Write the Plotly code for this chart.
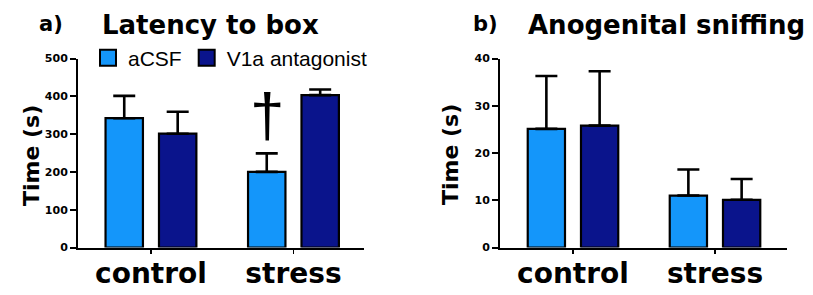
import plotly.graph_objects as go

# ---- data ----
categories = ["control", "stress"]
series_names = ["aCSF", "V1a antagonist"]
colors = ["#1496fa", "#0a148c"]

latency_acsf = [342, 200]
latency_acsf_err = [59, 49]
latency_v1a = [301, 403]
latency_v1a_err = [58, 15]

sniff_acsf = [25.1, 11.0]
sniff_acsf_err = [11.2, 5.5]
sniff_v1a = [25.8, 10.1]
sniff_v1a_err = [11.5, 4.4]

W, H = 813, 295
BOLD = "DejaVu Sans"
xpos = list(range(len(categories)))

fig = go.Figure()

def add_bars(vals, errs, name, color, xa, ya):
    fig.add_trace(go.Bar(
        x=xpos, y=vals, name=name, showlegend=False,
        marker=dict(color=color, line=dict(color="black", width=2.2)),
        error_y=dict(type="data", array=errs, arrayminus=[0] * len(errs),
                     symmetric=False, color="black", thickness=2.6, width=11),
        xaxis=xa, yaxis=ya, offsetgroup=name, hoverinfo="skip",
    ))

add_bars(latency_acsf, latency_acsf_err, series_names[0], colors[0], "x", "y")
add_bars(latency_v1a, latency_v1a_err, series_names[1], colors[1], "x", "y")
add_bars(sniff_acsf, sniff_acsf_err, series_names[0], colors[0], "x2", "y2")
add_bars(sniff_v1a, sniff_v1a_err, series_names[1], colors[1], "x2", "y2")

# legend entries
for name, color in zip(series_names, colors):
    fig.add_trace(go.Scatter(
        x=[None], y=[None], mode="markers", name=name,
        marker=dict(symbol="square", size=16, color=color,
                    line=dict(color="black", width=2)),
        xaxis="x", yaxis="y",
    ))

ydom = [47.5 / H, 236.5 / H]

xcommon = dict(
    tickmode="array", tickvals=xpos, ticktext=categories,
    showline=True, linecolor="black", linewidth=2,
    ticks="outside", ticklen=4, tickwidth=1.5, tickcolor="black",
    tickfont=dict(family=BOLD, size=28, color="black", weight="bold"),
    ticklabelstandoff=-4,
    showgrid=False, zeroline=False, fixedrange=True, automargin=False,
)
ycommon = dict(
    showline=True, linecolor="black", linewidth=2,
    ticks="outside", ticklen=6, tickwidth=2, tickcolor="black",
    tickfont=dict(family=BOLD, size=11, color="black", weight="bold"),
    showgrid=False, zeroline=False, domain=ydom, automargin=False,
    fixedrange=True,
)

fig.update_layout(
    width=W, height=H,
    margin=dict(l=0, r=0, t=0, b=0, autoexpand=False),
    paper_bgcolor="white", plot_bgcolor="white",
    barmode="group", bargap=0.25, bargroupgap=0.3,
    xaxis=dict(domain=[78 / W, 364 / W], range=[-0.512, 1.495], anchor="y", **xcommon),
    yaxis=dict(range=[0, 500], dtick=100, anchor="x", **ycommon),
    xaxis2=dict(domain=[500 / W, 787 / W], range=[-0.514, 1.507], anchor="y2", **xcommon),
    yaxis2=dict(range=[0, 40], dtick=10, anchor="x2", **ycommon),
    legend=dict(
        orientation="h", x=88 / W, xanchor="left", y=1 - 58 / H, yanchor="middle",
        font=dict(family="Liberation Sans", size=21, color="black"),
        bgcolor="rgba(0,0,0,0)", itemclick=False, itemdoubleclick=False,
    ),
    showlegend=True,
)

ann = []
def txt(text, x, y, size, bold=True, family=BOLD, xanchor="center", angle=0):
    ann.append(dict(
        text=text, x=x / W, y=1 - y / H, xref="paper", yref="paper",
        xanchor=xanchor, yanchor="middle", showarrow=False, textangle=angle,
        font=dict(family=family, size=size, color="black",
                  weight="bold" if bold else "normal"),
    ))

txt("a)", 51, 24, 21)
txt("Latency to box", 211, 25, 26)
txt("b)", 485, 24, 21)
txt("Anogenital sniffing", 666, 25, 26)
txt("Time (s)", 31, 155, 22, angle=-90)
txt("Time (s)", 450, 155, 22, angle=-90)

# significance dagger above stress / aCSF bar
ann.append(dict(
    text="†", x=1, y=352, xref="x", yref="y", xshift=-26.7,
    xanchor="center", yanchor="middle", showarrow=False,
    font=dict(family="Liberation Sans", size=62, color="black"),
))
fig.update_layout(annotations=ann)

fig.write_html(
    "out.html",
    config={"displayModeBar": False, "staticPlot": True},
    post_script="document.body.style.margin='0';document.body.style.padding='0';",
)
